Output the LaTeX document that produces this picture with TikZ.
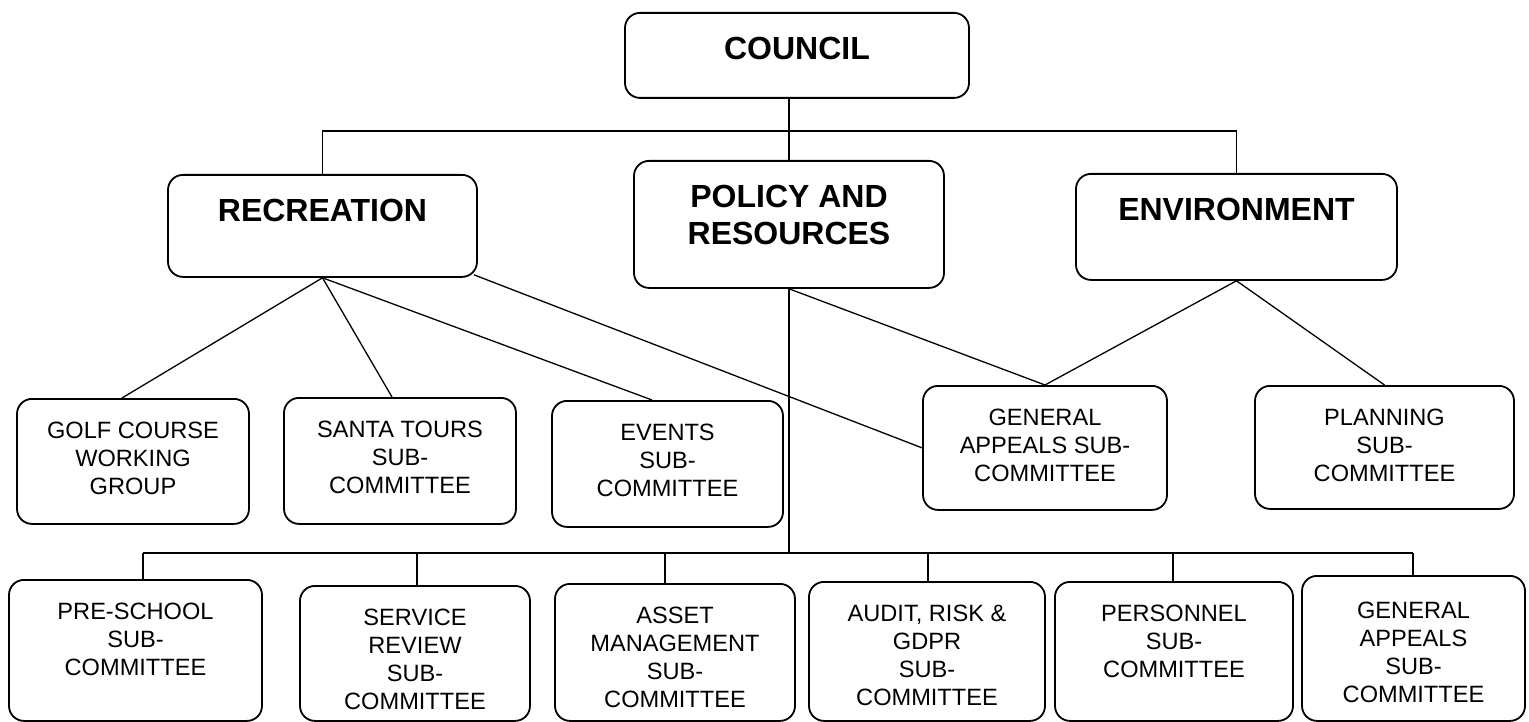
\documentclass[tikz,border=0pt]{standalone}
\usepackage{fontspec}
\setmainfont{Liberation Sans}
\usepackage{tikz}

\tikzset{
    head/.style={draw, rounded corners=15pt, line width=1.8pt, align=center, anchor=north,
        inner sep=0pt, text height=47pt, font=\fontsize{32}{37}\selectfont\bfseries},
    sub/.style={draw, rounded corners=15pt, line width=1.8pt, align=center, anchor=north,
        inner sep=0pt, text height=96pt, font=\fontsize{23.6}{28}\selectfont},
    link/.style={line width=1.3pt}
}

\begin{document}
\begin{tikzpicture}[x=1pt, y=-1pt]
        \useasboundingbox (0, 0) rectangle (1529, 722);

        \draw (797, 12) node(council)[head, minimum width=344pt, text depth=38pt]{COUNCIL};
        \draw (322.5, 174) node(rec)[head, minimum width=309pt, text depth=55pt]{RECREATION};
        \draw (789, 160) node(pol)[head, minimum width=310pt, text height=84pt, text depth=43pt]{POLICY AND\\RESOURCES};
        \draw (1236.5, 173) node(env)[head, minimum width=321pt, text depth=59pt]{ENVIRONMENT};

        \draw (133, 398) node(golf)[sub, minimum width=232pt, text depth=29pt]{GOLF COURSE\\WORKING\\GROUP};
        \draw (400, 397) node(santa)[sub, minimum width=232pt, text depth=30pt]{SANTA TOURS\\SUB-\\COMMITTEE};
        \draw (667.5, 400) node(events)[sub, minimum width=231pt, text depth=30pt]{EVENTS\\SUB-\\COMMITTEE};
        \draw (1045, 385) node(appeals)[sub, minimum width=244pt, text depth=28pt]{GENERAL\\APPEALS SUB-\\COMMITTEE};
        \draw (1384.5, 385) node(plan)[sub, minimum width=259pt, text depth=27pt]{PLANNING\\SUB-\\COMMITTEE};

        \draw (135.5, 579) node(pre)[sub, minimum width=253pt, text depth=45pt]{PRE-SCHOOL\\SUB-\\COMMITTEE};
        \draw (415, 585) node(serv)[sub, minimum width=230pt, text height=124pt, text depth=11pt]{SERVICE\\REVIEW\\SUB-\\COMMITTEE};
        \draw (675, 583) node(asset)[sub, minimum width=240pt, text height=124pt, text depth=13pt]{ASSET\\MANAGEMENT\\SUB-\\COMMITTEE};
        \draw (927, 581) node(audit)[sub, minimum width=236pt, text height=124pt, text depth=15pt]{AUDIT, RISK \&\\GDPR\\SUB-\\COMMITTEE};
        \draw (1174, 581) node(pers)[sub, minimum width=238pt, text depth=43pt]{PERSONNEL\\SUB-\\COMMITTEE};
        \draw (1413.5, 575) node(appeals2)[sub, minimum width=223pt, text height=127pt, text depth=18pt]{GENERAL\\APPEALS\\SUB-\\COMMITTEE};

        \draw[link] (rec.north) -- ++(0, -43) -| (env.north);
        \draw[link] (council.south -| pol.north) -- (pol.north);

        \draw[link] (rec.south) -- (golf.north -| 122, 0);
        \draw[link] (rec.south) -- (santa.north -| 392, 0);
        \draw[link] (rec.south) -- (events.north -| 652, 0);
        \draw[link] ([xshift=-4pt, yshift=3pt]rec.south east) -- (appeals.west);
        \draw[link] (pol.south) -- (appeals.north);
        \draw[link] (env.south) -- (appeals.north);
        \draw[link] (env.south) -- (plan.north);

        \coordinate (bus) at (pol.south |- 0, 553);
        \draw[link] (pol.south) -- (bus);
        \draw[link] (143, 553) -- (1413, 553);
        \foreach \n/\x in {pre/143, serv/417, asset/665, audit/928, pers/1173, appeals2/1413}
        {
            \coordinate (t\n) at (\x, 553);
            \draw[link] (t\n) -- (t\n |- \n.north);
        }
\end{tikzpicture}
\end{document}
